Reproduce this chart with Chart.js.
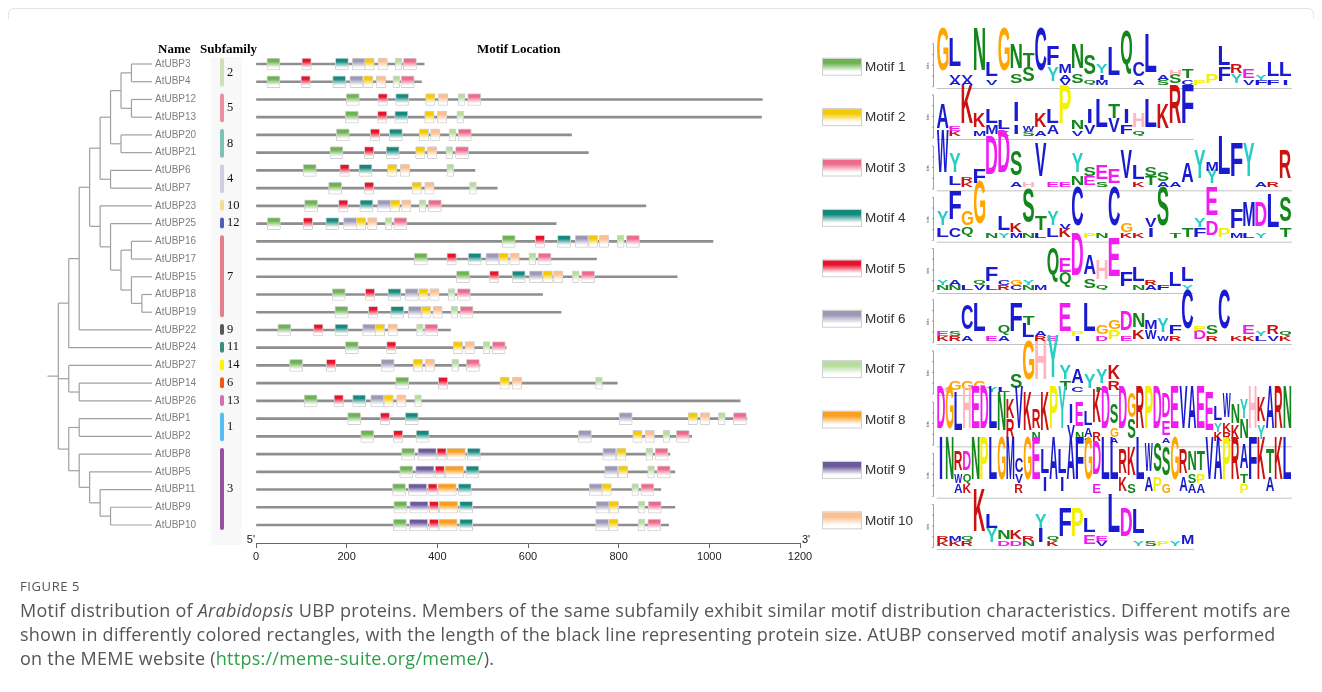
<!DOCTYPE html>
<html>
<head>
<meta charset="utf-8">
<script src="https://cdn.jsdelivr.net/npm/chart.js@4.4.0/dist/chart.umd.min.js"></script>
<style>
    body { margin: 0; background: #fff; width: 1322px; height: 692px; overflow: hidden; position: relative; font-family: 'Open Sans', sans-serif; }
    #frame { position: absolute; left: 8px; right: 8px; top: 8px; height: 10px; border: 1px solid #e4e4e4; border-bottom: none; border-radius: 6px 6px 0 0; }
    #c { position: absolute; left: 0; top: 0; }
    #cap { position: absolute; left: 20px; top: 576px; color: #555; white-space: nowrap; }
    #cap .fig { font-size: 13px; letter-spacing: 0.6px; line-height: 20px; }
    #cap .txt { font-size: 18px; letter-spacing: 0.25px; line-height: 24px; margin-top: 2px; }
    #cap a { color: #2f9e48; text-decoration: none; }
</style>
</head>
<body>
<div id="frame"></div>
<canvas id="c" width="1322" height="580"></canvas>
<div id="cap">
    <div class="fig">FIGURE 5</div>
    <div class="txt">Motif distribution of <i>Arabidopsis</i> UBP proteins. Members of the same subfamily exhibit similar motif distribution characteristics. Different motifs are<br>shown in differently colored rectangles, with the length of the black line representing protein size. AtUBP conserved motif analysis was performed<br>on the MEME website (<a>https://meme-suite.org/meme/</a>).</div>
</div>
<script>
// proteins in tree order, top to bottom
var proteins = ['AtUBP3', 'AtUBP4', 'AtUBP12', 'AtUBP13', 'AtUBP20', 'AtUBP21', 'AtUBP6', 'AtUBP7', 'AtUBP23', 'AtUBP25',
    'AtUBP16', 'AtUBP17', 'AtUBP15', 'AtUBP18', 'AtUBP19', 'AtUBP22', 'AtUBP24', 'AtUBP27', 'AtUBP14', 'AtUBP26',
    'AtUBP1', 'AtUBP2', 'AtUBP8', 'AtUBP5', 'AtUBP11', 'AtUBP9', 'AtUBP10'];
var proteinLengths = [371, 365, 1117, 1115, 696, 733, 483, 532, 860, 662, 1008, 751, 929, 632, 673, 429, 552, 494, 797, 1068,
    1083, 961, 913, 924, 893, 924, 910];

// motif start positions (aa), null = motif absent
var motif1 = [24, 24, 199, 197, 177, 163, 104, 160, 107, 25, 543, 349, 442, 168, 174, 48, 197, 74, 308, 106, 202, 231, 321, 317, 301, 304, 303];
var motif2 = [240, 237, 374, 372, 360, 352, 290, 344, 296, 221, 733, 536, 633, 359, 365, 263, 435, 347, 538, 282, 953, 831, 795, 799, 763, 779, 778];
var motif3 = [325, 320, 467, null, 446, 440, null, null, 380, 304, 817, 622, 718, 444, 450, 372, 521, 464, null, null, 1053, 927, 880, 885, 849, 865, 864];
var motif4 = [175, 169, 308, 306, 294, 287, 227, null, 229, 154, 665, 468, 565, 291, 297, 174, null, null, null, 213, 329, 353, 466, 463, 446, 449, 449];
var motif5 = [101, 99, 269, 268, 252, 239, 185, 239, 182, 104, 616, 421, 515, 241, 248, 127, 288, 155, 402, 172, 274, 303, 399, 395, 379, 382, 382];
var motif6 = [212, 207, null, null, null, null, null, null, 268, 193, 704, 507, 603, 329, 336, 235, null, 276, null, 253, 801, 711, 765, 769, 735, 750, 749];
var motif7 = [307, 302, 446, 443, 426, 419, 421, 471, 360, 285, 797, 602, 698, 424, 430, 354, 501, 432, 749, 350, 1020, 898, 860, 864, 829, 843, 843];
var motif8 = [null, null, null, null, null, null, null, null, null, null, null, null, null, null, null, null, null, null, null, null, null, null, 421, 417, 401, 404, 403];
var motif9 = [null, null, null, null, null, null, null, null, null, null, null, null, null, null, null, null, null, null, null, null, null, null, 357, 352, 336, 339, 338];
var motif10 = [269, 265, 402, 400, 385, 378, 318, 372, 321, 246, 757, 560, 656, 383, 390, 291, 461, 373, 565, 310, 980, 858, null, null, null, null, null];
var motifStarts = [motif1, motif2, motif3, motif4, motif5, motif6, motif7, motif8, motif9, motif10];
var motifLengths = [29, 21, 29, 29, 21, 29, 15, 41, 41, 21];
var motifNames = ['Motif 1', 'Motif 2', 'Motif 3', 'Motif 4', 'Motif 5', 'Motif 6', 'Motif 7', 'Motif 8', 'Motif 9', 'Motif 10'];
var xTicks = [0, 200, 400, 600, 800, 1000, 1200];

// subfamilies: label, first row, last row
var subfamilyNames = ['2', '5', '8', '4', '10', '12', '7', '9', '11', '14', '6', '13', '1', '3'];
var subfamilyFirst = [0, 2, 4, 6, 8, 9, 10, 15, 16, 17, 18, 19, 20, 22];
var subfamilyLast = [1, 3, 5, 7, 8, 9, 14, 15, 16, 17, 18, 19, 21, 26];

// tree topology
var tree = [
    [[[[[[['AtUBP3', 'AtUBP4'], ['AtUBP12', 'AtUBP13']], ['AtUBP20', 'AtUBP21']], ['AtUBP6', 'AtUBP7']],
        ['AtUBP23', ['AtUBP25', [['AtUBP16', 'AtUBP17'], ['AtUBP15', ['AtUBP18', 'AtUBP19']]]]]], 'AtUBP22'], 'AtUBP24'],
    ['AtUBP27', ['AtUBP14', 'AtUBP26']],
    [['AtUBP1', 'AtUBP2'], ['AtUBP8', ['AtUBP5', ['AtUBP11', ['AtUBP9', 'AtUBP10']]]]]
];

// sequence logos: each column lists letters top to bottom with height digits (9 = 4 bits)
var logo1 = ['G9', 'L6V1A1', 'V1A1', 'N9', 'L3V1', 'G9', 'N5S2', 'T3S3', 'C9', 'F4Y3', 'M2A1V1', 'N5S2', 'S4Q1', 'Y2I1M1', 'L6', 'Q9', 'C3A1', 'L8', 'A1S1', 'H1S2', 'T2C1', 'P1', 'P2', 'L4F3', 'R2Y2', 'E2V1', 'Y1F1', 'L3F1', 'L3I1'];
var logo2 = ['A5', 'E1K1', 'K8', 'K3M1', 'L3M2', 'L2K1', 'I4I2', 'W1S1', 'K3A1', 'L3A2', 'P8', 'N2V1', 'I3V2', 'L6', 'T3V3', 'I3F2', 'H3Q1', 'L6', 'K5', 'R8', 'F8'];
var logo3 = ['W9', 'Y4L2', 'R1K1', 'F3', 'D8', 'D9', 'S5A1', 'H1', 'V7', 'E1', 'E1', 'Y4N2', 'S2E2', 'E3S1', 'E3', 'V6', 'L3K1', 'S2T2', 'S2A1', 'A1', 'A4', 'Y6', 'M2Y3', 'L8', 'F7', 'Y7', 'A1', 'R1', 'R6'];
var logo4 = ['Y3L2', 'F6C2', 'G3Q2', 'G9', 'N1', 'L3Y1', 'K2M1', 'S7N1', 'T3L1', 'Y3L2', 'V1K2', 'C8', 'P1', 'N1', 'C8', 'G2K1', 'K1', 'V2I2', 'S8', 'T1', 'T2', 'Y2F2', 'E6D3', 'P2', 'F4M1', 'M5L1', 'D5Y1', 'L7', 'S5T2'];
var logo5 = ['Y1N1', 'A1N1', 'L1', 'Q1V1', 'F3L1', 'C1R1', 'G1C1', 'Y1N1', 'M1', 'Q7', 'E3Q3', 'D9', 'A4S2', 'H4Q1', 'E8', 'F3', 'L3N1', 'R1A1', 'F1', 'L3', 'L3Y1'];
var logo6 = ['E1K1', 'S1R1', 'C5A1', 'L6', 'E1', 'Q2A1', 'F6', 'T2L3', 'A1R1', 'E1', 'E6', 'P1I1', 'L6', 'G2D1', 'G2P2', 'D4E1', 'N3K2', 'M2W2', 'Y3W1', 'F2R1', 'C8', 'P1D2', 'S2R1', 'C8', 'K1', 'E2K1', 'Y1L1', 'R2V1', 'Q1K1'];
var logo7 = ['H1', 'G2', 'G2', 'G2', 'Y1', 'L1', 'S3', 'G8', 'H8', 'Y9', 'Y3T2', 'A3C1', 'Y3', 'Y3N1', 'K3R2'];
var logo8 = ['D9', 'G9', 'L8', 'H9', 'E9', 'D9', 'L9', 'N8', 'K4R4', 'V9', 'K8', 'R4N2', 'K8', 'P9', 'Y9', 'I4V3', 'E5N2', 'L3A2S1', 'K7R2', 'D9', 'S4G2A1', 'D9', 'G5S4', 'R9', 'P9', 'D9', 'D5E3A1', 'E9', 'V9', 'A9', 'E9', 'E8', 'L3Y2K2', 'W5K2R2', 'N4K3', 'Y4N4', 'H9', 'K5Y3', 'A9', 'R9', 'N9'];
var logo9 = ['I9', 'N9', 'R4W2A2', 'D4Q2K2', 'N9', 'P9', 'L9', 'G9', 'M9', 'C3V2R2', 'G9', 'E9', 'L5I3', 'A9', 'L5I3', 'A9', 'F9', 'G9', 'D7E2', 'L9', 'L9', 'R5K3', 'K6S2', 'L9', 'W6A3', 'S6P3', 'S6G2', 'G9', 'R5A3', 'N4S2A2', 'T4P2A2', 'V9', 'A9', 'P9', 'R9', 'A5T2P2', 'F9', 'K9', 'T5A3', 'K9', 'L9'];
var logo10 = ['R1K1', 'M1K1', 'Q1R1', 'K9', 'L3Y3', 'N2D1', 'K2D1', 'R1N1', 'Y3I3', 'Q1K1', 'F6', 'P6', 'L3E2', 'E1V1', 'L8', 'D6', 'L5Y1', 'S1', 'P1', 'Y1', 'M2'];
var logos = [logo1, logo2, logo3, logo4, logo5, logo6, logo7, logo8, logo9, logo10];

// styles
var motifColors = ['#6db352', '#f7c900', '#ee6a8c', '#148a7f', '#e8122d', '#9c98b6', '#b6dd9c', '#fb9d1f', '#6b5b9c', '#fdbf8f'];
var subfamilyColors = ['#cfe0b8', '#e98fa0', '#7dc3b3', '#cfcde0', '#f3dc98', '#4e5fb5', '#e47f8d', '#595959', '#3c8c7e', '#fff200', '#f2560f', '#d370b1', '#55bdf2', '#9552a3'];
var letterColors = {
    A: '#1a1ad0', C: '#1a1ad0', F: '#1a1ad0', I: '#1a1ad0', L: '#1a1ad0', M: '#1a1ad0', V: '#1a1ad0', W: '#1a1ad0',
    N: '#14861c', Q: '#14861c', S: '#14861c', T: '#14861c',
    D: '#f01cf0', E: '#f01cf0', K: '#cc1111', R: '#cc1111',
    H: '#ffb6c1', G: '#ffa500', P: '#f2f200', Y: '#26cdc2'
};

// where rows and the axis should land
var firstRowY = 64, lastRowY = 525, axisY = 543;

function gradientFor(ctx, col, y0, y1) {
    var g = ctx.createLinearGradient(0, y0, 0, y1);
    g.addColorStop(0, col);
    g.addColorStop(0.28, col);
    g.addColorStop(0.8, '#ffffff');
    g.addColorStop(1, '#ffffff');
    return g;
}

function boxFill(k) {
    return function (c) {
        var col = motifColors[k];
        if (c.type !== 'data' || !c.chart.chartArea) return col;
        var y = c.chart.scales.y.getPixelForValue(c.raw.y);
        return gradientFor(c.chart.ctx, col, y - 6, y + 6);
    };
}

var datasets = [{
    label: 'protein',
    data: proteinLengths.map(function (len, i) { return {x: [0, len], y: i}; }),
    backgroundColor: '#8e8e8e',
    borderWidth: 0,
    barThickness: 2,
    order: 2
}];
motifStarts.forEach(function (starts, k) {
    var pts = [];
    starts.forEach(function (s, i) {
        if (s !== null) pts.push({x: [s, s + motifLengths[k]], y: i});
    });
    datasets.push({
        label: motifNames[k],
        data: pts,
        backgroundColor: boxFill(k),
        borderColor: '#d2d2d2',
        borderWidth: 1,
        borderSkipped: false,
        borderRadius: 1,
        barThickness: 12,
        order: 1
    });
});

var glyphRef = null;
function drawLetter(ctx, ch, x, yBottom, w, h) {
    if (h < 0.4) return;
    ctx.save();
    ctx.font = 'bold 40px "Liberation Sans"';
    if (glyphRef === null) {
        var r = ctx.measureText('H');
        glyphRef = r.actualBoundingBoxRight + r.actualBoundingBoxLeft;
    }
    var m = ctx.measureText(ch);
    var asc = m.actualBoundingBoxAscent, desc = m.actualBoundingBoxDescent;
    var gw = m.actualBoundingBoxRight + m.actualBoundingBoxLeft;
    // narrow glyphs (I) stay narrow, the rest fill the column
    var sx = w / Math.max(gw, glyphRef * 0.8);
    ctx.translate(x + (w - gw * sx) / 2, yBottom);
    ctx.scale(sx, h / (asc + desc));
    ctx.fillStyle = letterColors[ch] || '#000';
    ctx.textAlign = 'left';
    ctx.textBaseline = 'alphabetic';
    ctx.fillText(ch, m.actualBoundingBoxLeft, -desc);
    ctx.restore();
}

var extras = {
    id: 'extras',
    afterDraw: function (chart) {
        var ctx = chart.ctx;
        var ys = chart.scales.y;
        var rowY = function (i) { return ys.getPixelForValue(i); };
        ctx.save();

        // headers
        ctx.fillStyle = '#000';
        ctx.font = 'bold 13px "Liberation Serif"';
        ctx.textBaseline = 'middle';
        ctx.textAlign = 'left';
        ctx.fillText('Name', 158, 50);
        ctx.fillText('Subfamily', 200, 50);
        ctx.fillText('Motif Location', 477, 50);

        // subfamily column
        ctx.fillStyle = '#f8f8f8';
        ctx.fillRect(211, 57, 31, 488);
        subfamilyNames.forEach(function (name, k) {
            var y0 = rowY(subfamilyFirst[k]) - 6, y1 = rowY(subfamilyLast[k]) + 5;
            ctx.fillStyle = subfamilyColors[k];
            ctx.beginPath();
            if (ctx.roundRect) ctx.roundRect(220, y0, 4, y1 - y0, 2); else ctx.rect(220, y0, 4, y1 - y0);
            ctx.fill();
            ctx.fillStyle = '#111';
            ctx.font = '12.5px "Liberation Serif"';
            ctx.fillText(name, 227, (y0 + y1) / 2);
        });

        // tree
        ctx.strokeStyle = '#a0a0a0';
        ctx.lineWidth = 1.2;
        var x0 = 58.3, step = 10.45, leafX = 152;
        function line(ax, ay, bx, by) {
            ctx.beginPath(); ctx.moveTo(ax, ay); ctx.lineTo(bx, by); ctx.stroke();
        }
        function layout(node, depth) {
            if (typeof node === 'string') return {y: rowY(proteins.indexOf(node)), x: leafX};
            var x = x0 + depth * step;
            var kids = node.map(function (n) { return layout(n, depth + 1); });
            var ymin = Math.min.apply(null, kids.map(function (k) { return k.y; }));
            var ymax = Math.max.apply(null, kids.map(function (k) { return k.y; }));
            line(x, ymin, x, ymax);
            kids.forEach(function (k) { line(x, k.y, k.x, k.y); });
            return {y: (ymin + ymax) / 2, x: x};
        }
        var root = layout(tree, 0);
        line(47.5, root.y, x0, root.y);

        // 5' and 3'
        ctx.fillStyle = '#111';
        ctx.font = '11px "Liberation Sans"';
        ctx.textAlign = 'right';
        ctx.fillText("5'", 255, 540);
        ctx.textAlign = 'left';
        ctx.fillText("3'", 802, 540);

        // legend
        motifNames.forEach(function (name, k) {
            var cy = 66.7 + k * 50.4;
            ctx.fillStyle = gradientFor(ctx, motifColors[k], cy - 8, cy + 8);
            ctx.fillRect(823, cy - 8, 38, 16);
            ctx.strokeStyle = '#cfcfcf';
            ctx.lineWidth = 1;
            ctx.strokeRect(822.5, cy - 8.5, 39, 17);
            ctx.fillStyle = '#333';
            ctx.font = '13.5px "Liberation Sans"';
            ctx.textAlign = 'left';
            ctx.textBaseline = 'middle';
            ctx.fillText(name, 865, cy + 0.5);
        });

        // sequence logos
        var unit = 43 / 9;
        logos.forEach(function (cols, k) {
            var base = 86.7 + k * 51.2;
            var cw = Math.min(12.24, 355 / cols.length);
            ctx.strokeStyle = '#666';
            ctx.lineWidth = 0.6;
            line(933.5, base, 933.5, base - 43);
            for (var b = 0; b <= 4; b++) line(932, base - b * 10.75, 933.5, base - b * 10.75);
            ctx.save();
            ctx.translate(928, base - 21);
            ctx.rotate(-Math.PI / 2);
            ctx.fillStyle = '#444';
            ctx.font = '4px "Liberation Sans"';
            ctx.textAlign = 'center';
            ctx.fillText('bits', 0, 0);
            ctx.restore();
            cols.forEach(function (col, j) {
                var parts = [];
                col.replace(/([A-Z])(\d)/g, function (_, ch, d) { parts.push([ch, +d]); });
                var y = base;
                for (var p = parts.length - 1; p >= 0; p--) {
                    var h = parts[p][1] * unit;
                    drawLetter(ctx, parts[p][0], 936.7 + j * cw + 0.3, y, cw - 0.6, h);
                    y -= h;
                }
            });
            ctx.fillStyle = '#999';
            ctx.fillRect(936.7, base + 1.5, cols.length * cw, 0.6);
        });

        ctx.restore();
    }
};

var chart = new Chart(document.getElementById('c'), {
    type: 'bar',
    data: {datasets: datasets},
    options: {
        indexAxis: 'y',
        responsive: false,
        devicePixelRatio: 1,
        animation: false,
        events: [],
        datasets: {bar: {grouped: false}},
        layout: {padding: {left: 155, right: 522, top: 55, bottom: 15}},
        plugins: {legend: {display: false}, tooltip: {enabled: false}},
        scales: {
            x: {
                type: 'linear',
                min: 0,
                max: 1200,
                afterBuildTicks: function (s) { s.ticks = xTicks.map(function (v) { return {value: v}; }); },
                afterFit: function (s) { s.height = 22; },
                ticks: {
                    font: {family: 'Liberation Sans', size: 11},
                    color: '#222',
                    padding: 2,
                    callback: function (v) { return String(v); }
                },
                grid: {drawOnChartArea: false, tickLength: 5, color: '#666'},
                border: {color: '#666'}
            },
            y: {
                type: 'linear',
                reverse: true,
                offset: false,
                min: -0.5,
                max: 27,
                afterBuildTicks: function (s) { s.ticks = proteins.map(function (p, i) { return {value: i}; }); },
                afterFit: function (s) { s.width = 101; },
                ticks: {
                    crossAlign: 'far',
                    autoSkip: false,
                    font: {family: 'Liberation Sans', size: 10},
                    color: '#808080',
                    callback: function (v) { return proteins[v] || ''; }
                },
                grid: {display: false, offset: false},
                border: {display: false}
            }
        }
    },
    plugins: [extras]
});

// put the x axis line at axisY
var area = chart.chartArea;
chart.options.layout.padding = {left: 155, right: 522, top: 55, bottom: Math.max(0, 15 + (area.bottom - axisY))};
chart.update();

// then stretch the y range so the first and last rows land where the figure has them
var n = proteins.length - 1;
for (var it = 0; it < 4; it++) {
    var ys = chart.scales.y;
    var p0 = ys.getPixelForValue(0), p1 = ys.getPixelForValue(n);
    var per = (p1 - p0) / n;
    var topPx = p0 + ys.min * per;
    var want = (lastRowY - firstRowY) / n;
    var newMin = -(firstRowY - topPx) / want;
    var newMax = newMin + per * (ys.max - ys.min) / want;
    chart.options.scales.y.min = newMin;
    chart.options.scales.y.max = newMax;
    chart.update();
}
</script>
</body>
</html>
